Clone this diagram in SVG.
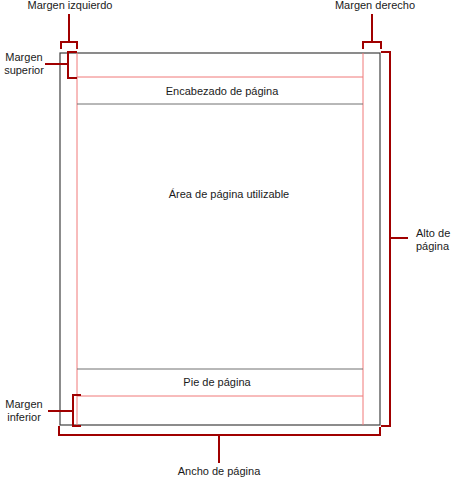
<svg xmlns="http://www.w3.org/2000/svg" width="454" height="478" viewBox="0 0 454 478">
  <style>
    text { font-family: "Liberation Sans", Arial, sans-serif; font-size: 11px; fill: #1a1a1a; }
    .mid { text-anchor: middle; }
    .page { fill: #ffffff; stroke: #404040; stroke-width: 1.2; }
    .margin { stroke: #f07878; stroke-width: 1; fill: none; }
    .band { stroke: #707070; stroke-width: 1; fill: none; }
    .brace { stroke: #a00000; stroke-width: 2; fill: none; }
  </style>
  <rect width="454" height="478" fill="#ffffff"/>

  <!-- page sheet with its margin guides -->
  <g id="page">
    <rect class="page" x="60" y="53" width="320" height="372"/>
    <line class="margin" x1="77" y1="53" x2="77" y2="425"/>
    <line class="margin" x1="363" y1="53" x2="363" y2="425"/>
    <line class="margin" x1="77" y1="77" x2="363" y2="77"/>
    <line class="margin" x1="77" y1="396" x2="363" y2="396"/>
  </g>

  <g id="header">
    <line class="band" x1="77" y1="104" x2="363" y2="104"/>
    <text class="mid" x="222" y="95">Encabezado de página</text>
  </g>

  <g id="body">
    <text class="mid" x="229" y="198">Área de página utilizable</text>
  </g>

  <g id="footer">
    <line class="band" x1="77" y1="369" x2="363" y2="369"/>
    <text class="mid" x="217" y="386">Pie de página</text>
  </g>

  <!-- dimension braces -->
  <g id="connectors">
    <path class="brace" d="M61,49 V42 H77 V49 M69,42 V14"/>
    <path class="brace" d="M363,49 V42 H381 V49 M372,42 V14"/>
    <path class="brace" d="M77,52 H68 V78 H77 M68,64 H45"/>
    <path class="brace" d="M81,395 H73 V426 H81 M73,411 H48"/>
    <path class="brace" d="M59,426 V435 H380 V427 M219,435 V463"/>
    <path class="brace" d="M381,52 H390 V426 H381 M390,238 H408"/>
  </g>

  <g id="label-left-margin">
    <text class="mid" x="70" y="9">Margen izquierdo</text>
  </g>
  <g id="label-right-margin">
    <text class="mid" x="375" y="9">Margen derecho</text>
  </g>
  <g id="label-top-margin">
    <text class="mid" x="24" y="61">Margen</text>
    <text class="mid" x="24" y="74">superior</text>
  </g>
  <g id="label-bottom-margin">
    <text class="mid" x="24" y="408">Margen</text>
    <text class="mid" x="24" y="421">inferior</text>
  </g>
  <g id="label-width">
    <text class="mid" x="219" y="475">Ancho de página</text>
  </g>
  <g id="label-height">
    <text x="416" y="237">Alto de</text>
    <text x="416" y="250">página</text>
  </g>
</svg>
